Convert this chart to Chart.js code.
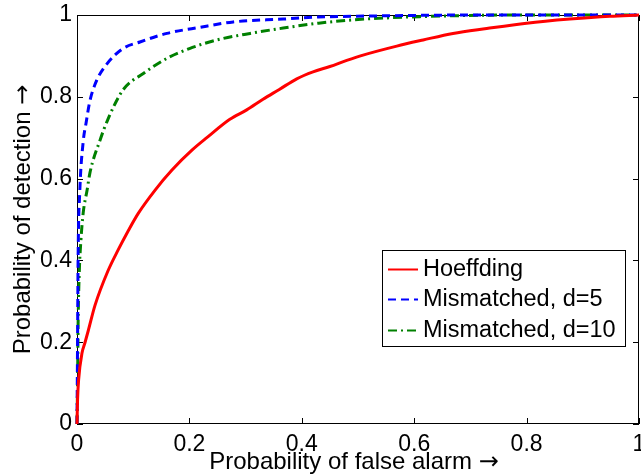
<!DOCTYPE html>
<html>
<head>
<meta charset="utf-8">
<script src="https://cdn.jsdelivr.net/npm/chart.js@4.4.1/dist/chart.umd.min.js"></script>
<style>
html,body{margin:0;padding:0;background:#fff;}
#wrap{width:641px;height:475px;}
</style>
</head>
<body>
<div id="wrap"><canvas id="c" width="641" height="475"></canvas></div>
<script>
const seriesNames = ["Hoeffding", "Mismatched, d=5", "Mismatched, d=10"];
const xTitle = "Probability of false alarm ";
const yTitle = "Probability of detection ";
const arrowText = "\u2192";
const tickValues = [0, 0.2, 0.4, 0.6, 0.8, 1];

const hoeffdingPfa = [0, 0.001, 0.003, 0.009, 0.014, 0.02, 0.032, 0.055, 0.073, 0.091, 0.109, 0.139, 0.169, 0.205, 0.231, 0.272, 0.302, 0.331, 0.36, 0.391, 0.42, 0.45, 0.48, 0.509, 0.569, 0.616, 0.669, 0.729, 0.8, 0.877, 0.948, 1];
const hoeffdingPd  = [0, 0.06, 0.11, 0.174, 0.198, 0.228, 0.29, 0.374, 0.425, 0.472, 0.515, 0.572, 0.621, 0.67, 0.70, 0.745, 0.768, 0.794, 0.818, 0.844, 0.861, 0.874, 0.889, 0.902, 0.924, 0.939, 0.955, 0.967, 0.98, 0.99, 0.997, 1];

const d5Pfa = [0, 0.001, 0.002, 0.005, 0.011, 0.016, 0.023, 0.035, 0.053, 0.082, 0.112, 0.16, 0.219, 0.278, 0.367, 0.43, 0.55, 0.7, 1];
const d5Pd  = [0, 0.2, 0.41, 0.57, 0.69, 0.735, 0.79, 0.84, 0.88, 0.918, 0.934, 0.955, 0.97, 0.983, 0.99, 0.995, 0.998, 1, 1];

const d10Pfa = [0, 0.001, 0.002, 0.004, 0.007, 0.011, 0.018, 0.023, 0.041, 0.055, 0.082, 0.118, 0.16, 0.2, 0.249, 0.308, 0.367, 0.43, 0.49, 0.61, 0.8, 1];
const d10Pd  = [0, 0.1, 0.247, 0.369, 0.45, 0.516, 0.572, 0.614, 0.694, 0.745, 0.817, 0.857, 0.894, 0.918, 0.939, 0.955, 0.968, 0.98, 0.988, 0.996, 1, 1];

function pts(xs, ys){ return xs.map((x,i)=>({x:x, y:ys[i]})); }

const FONT = "'Liberation Sans', Arial, Helvetica, sans-serif";
const ARROWFONT = "'DejaVu Sans', sans-serif";

function drawTitle(ctx, text, cx, baseline){
  ctx.font = '24px ' + FONT;
  const w1 = ctx.measureText(text).width;
  ctx.font = '24px ' + ARROWFONT;
  const w2 = ctx.measureText(arrowText).width;
  const x0 = cx - (w1 + w2)/2;
  ctx.textAlign = 'left';
  ctx.font = '24px ' + FONT;
  ctx.fillText(text, x0, baseline);
  ctx.font = '24px ' + ARROWFONT;
  ctx.fillText(arrowText, x0 + w1, baseline);
}

const framePlugin = {
  id: 'frame',
  beforeDatasetsDraw(chart){
    const {ctx, chartArea:a, scales} = chart;
    ctx.save();
    ctx.strokeStyle = '#000';
    ctx.lineWidth = 1;
    ctx.strokeRect(a.left+0.5, a.top+0.5, a.right-a.left-1, a.bottom-a.top-1);
    const L = 6;
    ctx.beginPath();
    tickValues.forEach(v=>{
      const px = Math.round(scales.x.getPixelForValue(v))+0.5;
      ctx.moveTo(px, a.bottom); ctx.lineTo(px, a.bottom-L);
      ctx.moveTo(px, a.top); ctx.lineTo(px, a.top+L);
      const py = Math.round(scales.y.getPixelForValue(v))+0.5;
      ctx.moveTo(a.left, py); ctx.lineTo(a.left+L, py);
      ctx.moveTo(a.right, py); ctx.lineTo(a.right-L, py);
    });
    ctx.stroke();
    ctx.restore();
  },
  afterDraw(chart){
    const {ctx, chartArea:a} = chart;
    ctx.save();
    ctx.fillStyle = '#000';
    ctx.textBaseline = 'alphabetic';
    drawTitle(ctx, xTitle, 354, a.bottom + 45);
    ctx.translate(30, (a.top+a.bottom)/2);
    ctx.rotate(-Math.PI/2);
    drawTitle(ctx, yTitle, 0, 0);
    ctx.restore();

    // legend
    const lx0 = 382, ly0 = 250, lx1 = 626, ly1 = 347;
    ctx.save();
    ctx.fillStyle = '#fff';
    ctx.fillRect(lx0, ly0, lx1-lx0, ly1-ly0);
    ctx.strokeStyle = '#000';
    ctx.lineWidth = 1;
    ctx.strokeRect(lx0+0.5, ly0+0.5, lx1-lx0-1, ly1-ly0-1);
    ctx.font = '23.5px ' + FONT;
    ctx.textBaseline = 'middle';
    ctx.textAlign = 'left';
    const rows = [269, 299, 330];
    chart.data.datasets.forEach((ds, i)=>{
      const y = rows[i] + 0.5;
      ctx.save();
      ctx.strokeStyle = ds.borderColor;
      ctx.lineWidth = 2;
      ctx.setLineDash(ds.borderDash || []);
      ctx.beginPath();
      ctx.moveTo(388, y); ctx.lineTo(418, y);
      ctx.stroke();
      ctx.restore();
      ctx.fillStyle = '#000';
      ctx.fillText(ds.label, 423, rows[i]+1);
    });
    ctx.restore();
  }
};

new Chart(document.getElementById('c'), {
  type: 'line',
  data: {
    datasets: [
      { label: seriesNames[0], data: pts(hoeffdingPfa, hoeffdingPd), borderColor: '#ff0000', borderWidth: 3, pointRadius: 0, cubicInterpolationMode: 'monotone', fill: false, clip: 6 },
      { label: seriesNames[1], data: pts(d5Pfa, d5Pd), borderColor: '#0000ff', borderWidth: 3, borderDash: [8,5], pointRadius: 0, cubicInterpolationMode: 'monotone', fill: false, clip: 6 },
      { label: seriesNames[2], data: pts(d10Pfa, d10Pd), borderColor: '#008000', borderWidth: 3, borderDash: [9,4,2,4], pointRadius: 0, cubicInterpolationMode: 'monotone', fill: false, clip: 6 }
    ]
  },
  options: {
    responsive: false,
    animation: false,
    layout: { padding: { top: 15, right: 2, left: 0, bottom: 0 } },
    plugins: { legend: { display: false }, tooltip: { enabled: false } },
    scales: {
      x: {
        type: 'linear', min: 0, max: 1,
        afterBuildTicks(s){ s.ticks = tickValues.map(v=>({value:v})); },
        afterFit(s){ s.height = 51; s.paddingLeft = 0; s.paddingRight = 0; },
        grid: { display: false, drawTicks: false },
        border: { display: false },
        ticks: { color: '#000', font: { size: 23, family: FONT }, padding: 7, maxRotation: 0, autoSkip: false,
          callback: v => String(v) }
      },
      y: {
        type: 'linear', min: 0, max: 1,
        afterBuildTicks(s){ s.ticks = tickValues.map(v=>({value:v})); },
        afterFit(s){ s.width = 77; s.paddingTop = 0; s.paddingBottom = 0; },
        grid: { display: false, drawTicks: false },
        border: { display: false },
        ticks: { color: '#000', font: { size: 23, family: FONT }, padding: 5, autoSkip: false,
          callback: v => String(v) }
      }
    }
  },
  plugins: [framePlugin]
});
</script>
</body>
</html>
